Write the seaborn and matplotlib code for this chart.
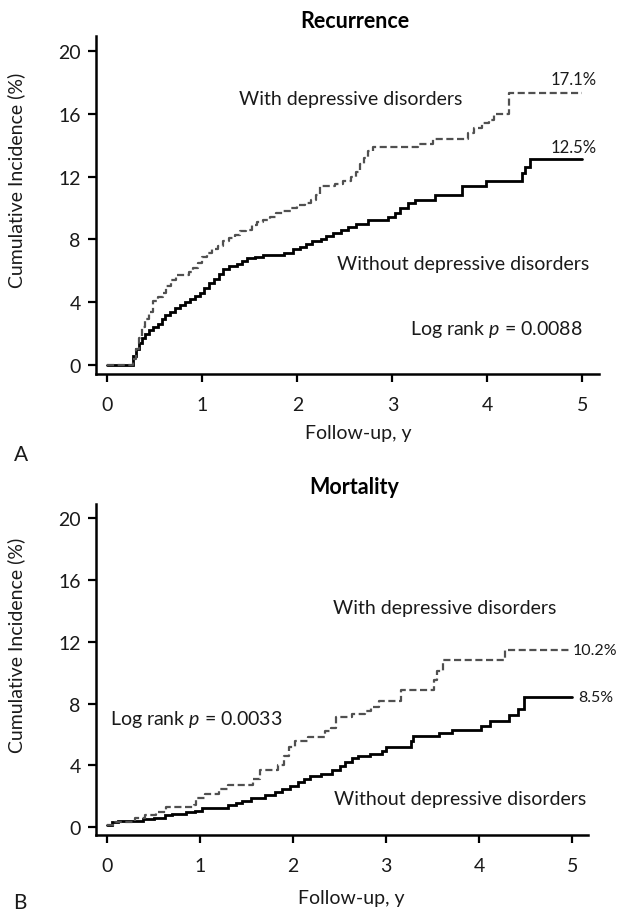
import matplotlib
matplotlib.use("Agg")
import matplotlib.pyplot as plt
import seaborn as sns
import pandas as pd

# ---------------- data (step curves: time in years, cumulative incidence %) ----------------
rec_with_t = [0, 0.27, 0.30, 0.33, 0.36, 0.40, 0.44, 0.48, 0.53, 0.58, 0.62, 0.67, 0.72, 0.86, 0.90,
              0.95, 1.00, 1.05, 1.10, 1.16, 1.22, 1.28, 1.34, 1.40, 1.46, 1.52, 1.57, 1.64, 1.71, 1.78,
              1.85, 1.93, 2.00, 2.08, 2.14, 2.20, 2.24, 2.40, 2.48, 2.56, 2.62, 2.66, 2.70, 2.74, 2.80,
              3.27, 3.43, 3.80, 3.86, 3.94, 4.02, 4.07, 4.23, 5.00]
rec_with_v = [0, 0.4, 1.0, 1.7, 2.4, 2.9, 3.4, 4.1, 4.3, 4.6, 5.0, 5.4, 5.7, 5.9, 6.2,
              6.5, 6.9, 7.1, 7.4, 7.6, 7.9, 8.1, 8.3, 8.5, 8.6, 8.9, 9.1, 9.2, 9.4, 9.7,
              9.8, 10.0, 10.2, 10.3, 10.5, 10.8, 11.4, 11.5, 11.7, 12.0, 12.3, 12.8, 13.2, 13.6, 13.9,
              14.1, 14.4, 14.8, 15.1, 15.4, 15.6, 16.0, 17.3, 17.3]

rec_without_t = [0, 0.27, 0.30, 0.33, 0.36, 0.40, 0.44, 0.48, 0.53, 0.57, 0.61, 0.66, 0.71, 0.76, 0.82,
                 0.87, 0.92, 0.97, 1.02, 1.07, 1.12, 1.17, 1.22, 1.28, 1.36, 1.42, 1.47, 1.55, 1.64, 1.86,
                 1.95, 2.03, 2.09, 2.15, 2.25, 2.30, 2.38, 2.46, 2.53, 2.62, 2.74, 2.95, 3.03, 3.08, 3.16,
                 3.24, 3.45, 3.73, 3.99, 4.36, 4.40, 4.45, 5.00]
rec_without_v = [0, 0.6, 1.0, 1.4, 1.7, 2.0, 2.2, 2.4, 2.6, 2.9, 3.2, 3.4, 3.6, 3.8, 4.0,
                 4.2, 4.4, 4.6, 4.9, 5.2, 5.5, 5.8, 6.1, 6.3, 6.4, 6.6, 6.8, 6.9, 7.0, 7.1,
                 7.4, 7.5, 7.7, 7.9, 8.0, 8.2, 8.4, 8.6, 8.8, 9.0, 9.2, 9.4, 9.7, 10.0, 10.3,
                 10.5, 10.8, 11.4, 11.7, 12.2, 12.6, 13.1, 13.1]

mort_with_t = [0, 0.08, 0.30, 0.41, 0.52, 0.63, 0.93, 0.96, 1.05, 1.20, 1.30, 1.57, 1.64, 1.84, 1.90,
               1.95, 2.02, 2.16, 2.34, 2.41, 2.46, 2.63, 2.77, 2.84, 2.92, 3.16, 3.51, 3.55, 3.61, 4.28, 5.00]
mort_with_v = [0.1, 0.35, 0.6, 0.75, 0.95, 1.27, 1.45, 1.9, 2.15, 2.45, 2.7, 3.1, 3.7, 4.0, 4.6,
               5.2, 5.55, 5.8, 6.2, 6.4, 7.1, 7.3, 7.5, 7.8, 8.15, 8.9, 9.5, 10.1, 10.8, 11.5, 11.5]

mort_without_t = [0, 0.05, 0.12, 0.38, 0.50, 0.62, 0.70, 0.85, 0.94, 1.02, 1.30, 1.38, 1.45, 1.55, 1.70,
                  1.80, 1.88, 1.97, 2.05, 2.12, 2.18, 2.30, 2.42, 2.50, 2.56, 2.63, 2.70, 2.82, 2.95, 3.00,
                  3.26, 3.29, 3.57, 3.71, 4.02, 4.11, 4.32, 4.41, 4.48, 5.00]
mort_without_v = [0.1, 0.3, 0.4, 0.5, 0.6, 0.75, 0.85, 0.95, 1.05, 1.25, 1.4, 1.55, 1.7, 1.9, 2.05,
                  2.25, 2.45, 2.65, 2.9, 3.1, 3.3, 3.45, 3.7, 3.95, 4.2, 4.45, 4.6, 4.75, 4.95, 5.2,
                  5.6, 5.9, 6.1, 6.3, 6.55, 6.85, 7.25, 7.65, 8.4, 8.4]

panel_titles = ["Recurrence", "Mortality"]
panel_letters = ["A", "B"]
group_labels = ["With depressive disorders", "Without depressive disorders"]
end_labels = [("17.1%", "12.5%"), ("10.2%", "8.5%")]
logrank = ["Log rank $p$ = 0.0088", "Log rank $p$ = 0.0033"]
x_ticks = [0, 1, 2, 3, 4, 5]
y_ticks = [0, 4, 8, 12, 16, 20]

# ---------------- style ----------------
sns.set_style("ticks")
plt.rcParams["font.family"] = ["Lato", "DejaVu Sans"]
plt.rcParams["mathtext.fontset"] = "custom"
plt.rcParams["mathtext.rm"] = "Lato"
plt.rcParams["mathtext.it"] = "Lato:italic"
plt.rcParams["mathtext.bf"] = "Lato:bold"

FS = 14
TXT = "#1a1a1a"

fig = plt.figure(figsize=(6.17, 9.12), dpi=100)
ax1 = fig.add_axes([0.1556, 0.5893, 0.816, 0.3701])
ax2 = fig.add_axes([0.1556, 0.0833, 0.797, 0.3630])

def draw(ax, wt, wv, ot, ov):
    df_w = pd.DataFrame({"t": wt, "v": wv})
    df_o = pd.DataFrame({"t": ot, "v": ov})
    sns.lineplot(data=df_o, x="t", y="v", ax=ax, estimator=None, drawstyle="steps-post",
                 color="black", linewidth=2.0, solid_joinstyle="miter")
    sns.lineplot(data=df_w, x="t", y="v", ax=ax, estimator=None, drawstyle="steps-post",
                 color="#505050", linewidth=1.6, linestyle=(0, (3.2, 1.6)))
    ax.set_xticks(x_ticks)
    ax.set_yticks(y_ticks)
    ax.set_xticklabels([str(v) for v in x_ticks])
    ax.set_yticklabels([str(v) for v in y_ticks])
    for s in ["top", "right"]:
        ax.spines[s].set_visible(False)
    for s in ["left", "bottom"]:
        ax.spines[s].set_linewidth(1.8)
        ax.spines[s].set_color("black")
    ax.tick_params(axis="both", direction="out", length=6, width=1.6, color="black",
                   labelsize=FS, labelcolor=TXT)
    ax.tick_params(axis="x", pad=10)
    ax.tick_params(axis="y", pad=5)
    ax.set_xlabel("Follow-up, y", fontsize=FS, color=TXT)
    ax.set_ylabel("Cumulative Incidence (%)", fontsize=FS, color=TXT)
    ax.xaxis.label.set_va("center")
    ax.yaxis.label.set_va("center")

draw(ax1, rec_with_t, rec_with_v, rec_without_t, rec_without_v)
draw(ax2, mort_with_t, mort_with_v, mort_without_t, mort_without_v)

ax1.set_xlim(-0.12, 5.18)
ax1.set_ylim(-0.55, 20.95)
ax2.set_xlim(-0.12, 5.165)
ax2.set_ylim(-0.52, 20.93)

ax1.xaxis.set_label_coords(0.52, -0.175)
ax2.xaxis.set_label_coords(0.52, -0.19)
ax1.yaxis.set_label_coords(-0.158, 0.575)
ax2.yaxis.set_label_coords(-0.162, 0.575)

# titles
ax1.text(0.515, 1.045, panel_titles[0], transform=ax1.transAxes, ha="center", va="center",
         fontsize=FS + 1.5, fontweight="bold", color="black")
ax2.text(0.525, 1.052, panel_titles[1], transform=ax2.transAxes, ha="center", va="center",
         fontsize=FS + 1.5, fontweight="bold", color="black")

# annotations top
ax1.text(2.56, 17.0, group_labels[0], ha="center", va="center", fontsize=FS, color=TXT)
ax1.text(3.74, 6.44, group_labels[1], ha="center", va="center", fontsize=FS, color=TXT)
ax1.text(4.09, 2.3, logrank[0], ha="center", va="center", fontsize=FS, color=TXT)
ax1.text(4.91, 18.2, end_labels[0][0], ha="center", va="center", fontsize=FS - 2, color=TXT)
ax1.text(4.91, 13.85, end_labels[0][1], ha="center", va="center", fontsize=FS - 2, color=TXT)

# annotations bottom
ax2.text(3.63, 14.25, group_labels[0], ha="center", va="center", fontsize=FS, color=TXT)
ax2.text(3.79, 1.85, group_labels[1], ha="center", va="center", fontsize=FS, color=TXT)
ax2.text(0.96, 7.0, logrank[1], ha="center", va="center", fontsize=FS, color=TXT)
ax2.text(5.0, 11.5, end_labels[1][0], ha="left", va="center", fontsize=FS - 2.5, color=TXT)
ax2.text(5.06, 8.45, end_labels[1][1], ha="left", va="center", fontsize=FS - 2.5, color=TXT)

# panel letters
fig.text(0.022, 1 - 455 / 912, panel_letters[0], ha="left", va="center", fontsize=FS + 1, color=TXT)
fig.text(0.022, 1 - 903 / 912, panel_letters[1], ha="left", va="center", fontsize=FS + 1, color=TXT)

fig.savefig("out.png", dpi=100)
